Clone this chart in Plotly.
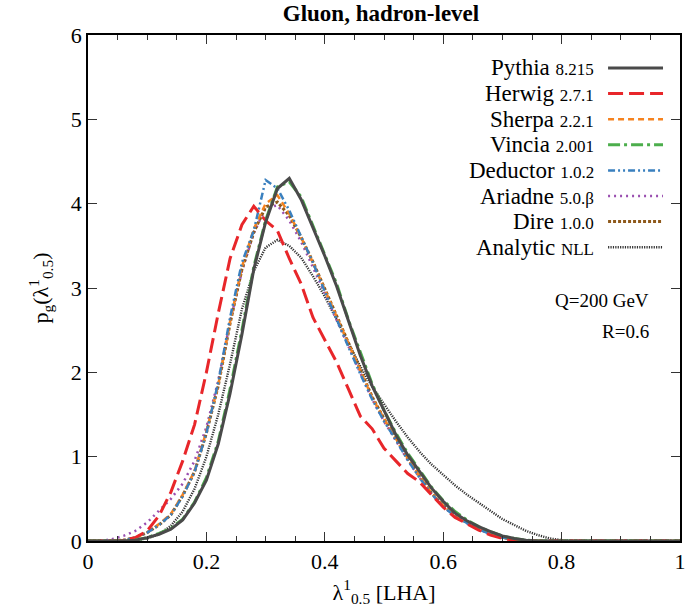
import plotly.graph_objects as go

# x grid (bin positions) shared by all series
x_vals = [round(0.02 * i, 2) for i in range(51)]

pythia = [0, 0, 0, 0, 0.01, 0.04, 0.08, 0.14, 0.25, 0.45, 0.72, 1.15, 1.75, 2.45, 3.22, 3.78, 4.18, 4.30, 4.05, 3.72,
          3.38, 3.02, 2.60, 2.20, 1.84, 1.54, 1.26, 1.02, 0.82, 0.63, 0.47, 0.33, 0.24, 0.17, 0.11, 0.06, 0.03, 0.01, 0, 0,
          0, 0, 0, 0, 0, 0, 0, 0, 0, 0, 0]
herwig = [0, 0, 0, 0.01, 0.04, 0.12, 0.30, 0.58, 0.95, 1.38, 2.00, 2.70, 3.35, 3.75, 3.97, 3.80, 3.68, 3.35, 3.05, 2.65,
          2.38, 2.12, 1.80, 1.48, 1.33, 1.10, 0.95, 0.80, 0.70, 0.55, 0.40, 0.28, 0.20, 0.13, 0.07, 0.03, 0.01, 0, 0, 0,
          0, 0, 0, 0, 0, 0, 0, 0, 0, 0, 0]
sherpa = [0, 0, 0, 0.01, 0.04, 0.10, 0.20, 0.32, 0.55, 0.83, 1.30, 1.85, 2.60, 3.25, 3.70, 4.00, 4.10, 3.88, 3.60, 3.30,
          2.98, 2.65, 2.33, 2.00, 1.70, 1.45, 1.22, 0.98, 0.77, 0.57, 0.42, 0.30, 0.22, 0.15, 0.09, 0.04, 0.02, 0, 0, 0,
          0, 0, 0, 0, 0, 0, 0, 0, 0, 0, 0]
vincia = [0, 0, 0, 0, 0.01, 0.04, 0.09, 0.15, 0.26, 0.46, 0.75, 1.18, 1.80, 2.50, 3.25, 3.80, 4.20, 4.26, 4.08, 3.74,
          3.40, 3.05, 2.62, 2.25, 1.86, 1.55, 1.28, 1.04, 0.84, 0.64, 0.48, 0.35, 0.25, 0.17, 0.11, 0.06, 0.03, 0.01, 0, 0,
          0, 0, 0, 0, 0, 0, 0, 0, 0, 0, 0]
deductor = [0, 0, 0, 0.01, 0.04, 0.10, 0.19, 0.31, 0.53, 0.82, 1.28, 1.88, 2.65, 3.30, 3.68, 4.28, 4.18, 3.92, 3.62, 3.30,
            2.96, 2.62, 2.30, 1.98, 1.68, 1.42, 1.20, 0.96, 0.75, 0.56, 0.41, 0.29, 0.21, 0.14, 0.08, 0.04, 0.02, 0, 0, 0,
            0, 0, 0, 0, 0, 0, 0, 0, 0, 0, 0]
ariadne = [0, 0, 0.02, 0.06, 0.12, 0.22, 0.36, 0.50, 0.68, 0.95, 1.35, 1.90, 2.60, 3.20, 3.65, 3.95, 3.98, 3.80, 3.55, 3.25,
           2.94, 2.62, 2.30, 1.98, 1.68, 1.42, 1.19, 0.96, 0.75, 0.56, 0.41, 0.29, 0.21, 0.14, 0.08, 0.04, 0.02, 0, 0, 0,
           0, 0, 0, 0, 0, 0, 0, 0, 0, 0, 0]
dire = [0, 0, 0, 0.01, 0.04, 0.10, 0.19, 0.31, 0.54, 0.82, 1.28, 1.84, 2.58, 3.22, 3.66, 3.96, 4.02, 3.86, 3.60, 3.31,
        2.99, 2.66, 2.34, 2.01, 1.71, 1.45, 1.22, 0.98, 0.77, 0.57, 0.42, 0.30, 0.22, 0.15, 0.09, 0.04, 0.02, 0, 0, 0,
        0, 0, 0, 0, 0, 0, 0, 0, 0, 0, 0]
analytic = [0, 0, 0, 0, 0.01, 0.03, 0.08, 0.18, 0.35, 0.62, 1.00, 1.50, 2.10, 2.75, 3.20, 3.48, 3.57, 3.50, 3.36, 3.14,
            2.90, 2.62, 2.34, 2.07, 1.83, 1.62, 1.42, 1.23, 1.06, 0.91, 0.78, 0.66, 0.55, 0.45, 0.35, 0.26, 0.19, 0.12, 0.07, 0.03,
            0.01, 0, 0, 0, 0, 0, 0, 0, 0, 0, 0]

names = ["Pythia", "Herwig", "Sherpa", "Vincia", "Deductor", "Ariadne", "Dire", "Analytic"]
versions = ["8.215", "2.7.1", "2.2.1", "2.001", "1.0.2", "5.0.β", "1.0.0", "NLL"]
series = [pythia, herwig, sherpa, vincia, deductor, ariadne, dire, analytic]

colors = ["#4a4a4a", "#e8262a", "#f5821f", "#4cae4c", "#3a80bf", "#9a4fb0", "#8f5a1c", "#333333"]
widths = [3, 3, 2.5, 3, 2.5, 2.5, 3, 2.4]
dashes = ["solid", "15px,6px", "6px,4px", "12px,4px,3px,4px", "7px,3px,2px,3px,2px,3px", "2px,4px", "3px,2px", "1.2px,1.2px"]
draw_order = [7, 5, 6, 2, 4, 1, 3, 0]

fig = go.Figure()
for i in draw_order:
    fig.add_trace(go.Scatter(x=x_vals, y=series[i], mode="lines", name=names[i],
                             line=dict(color=colors[i], width=widths[i], dash=dashes[i]),
                             showlegend=False))

FONT = "Liberation Serif"

# custom legend: text on the left, line sample on the right
shapes = []
annotations = []
row0 = 68.0
step = 25.6
for i in range(8):
    py = row0 + step * i
    yp = (541 - py) / 506
    annotations.append(dict(xref="paper", yref="paper", x=(596 - 87.5) / 592.5, y=yp, xanchor="right", yanchor="middle",
                            showarrow=False,
                            text=f"{names[i]} <span style='font-size:17px'>{versions[i]}</span>",
                            font=dict(family=FONT, size=23, color="black")))
    shapes.append(dict(type="line", xref="paper", yref="paper", x0=(608 - 87.5) / 592.5, x1=(663 - 87.5) / 592.5,
                       y0=yp, y1=yp,
                       line=dict(color=colors[i], width=widths[i], dash=dashes[i])))

annotations.append(dict(xref="paper", yref="paper", x=(651 - 87.5) / 592.5, y=(541 - 300) / 506,
                        xanchor="right", yanchor="middle", showarrow=False, text="Q=200 GeV",
                        font=dict(family=FONT, size=19, color="black")))
annotations.append(dict(xref="paper", yref="paper", x=(651 - 87.5) / 592.5, y=(541 - 331) / 506,
                        xanchor="right", yanchor="middle", showarrow=False, text="R=0.6",
                        font=dict(family=FONT, size=19, color="black")))

fig.update_layout(
    width=689, height=608,
    margin=dict(l=87.5, r=9, t=35, b=67),
    paper_bgcolor="white", plot_bgcolor="white",
    font=dict(family=FONT, size=22, color="black"),
    title=dict(text="<b>Gluon, hadron-level</b>", x=381 / 689, xanchor="center", y=1 - 13 / 608,
               yanchor="middle", font=dict(family=FONT, size=23)),
    shapes=shapes, annotations=annotations,
    xaxis=dict(range=[0, 1], tickvals=[0, 0.2, 0.4, 0.6, 0.8, 1], ticktext=["0", "0.2", "0.4", "0.6", "0.8", "1"],
               ticks="inside", ticklen=9, tickwidth=1, tickcolor="#333", automargin=False,
               minor=dict(dtick=0.05, ticks="inside", ticklen=5, tickcolor="#333", showgrid=False),
               showline=True, linecolor="black", linewidth=1.5, mirror="ticks", showgrid=False, zeroline=False,
               title=dict(text="λ<sup>1</sup><sub>0.5</sub> [LHA]", standoff=11, font=dict(size=22)),
               tickfont=dict(size=22)),
    yaxis=dict(range=[0, 6], dtick=1, ticks="inside", ticklen=9, tickwidth=1, tickcolor="#333", automargin=False,
               showline=True, linecolor="black", linewidth=1.5, mirror="ticks", showgrid=False, zeroline=False,
               title=dict(text="p<sub>g</sub>(λ<sup>1</sup><sub>0.5</sub>)", standoff=16, font=dict(size=22)),
               tickfont=dict(size=22)),
)

fig.write_html("out.html")
